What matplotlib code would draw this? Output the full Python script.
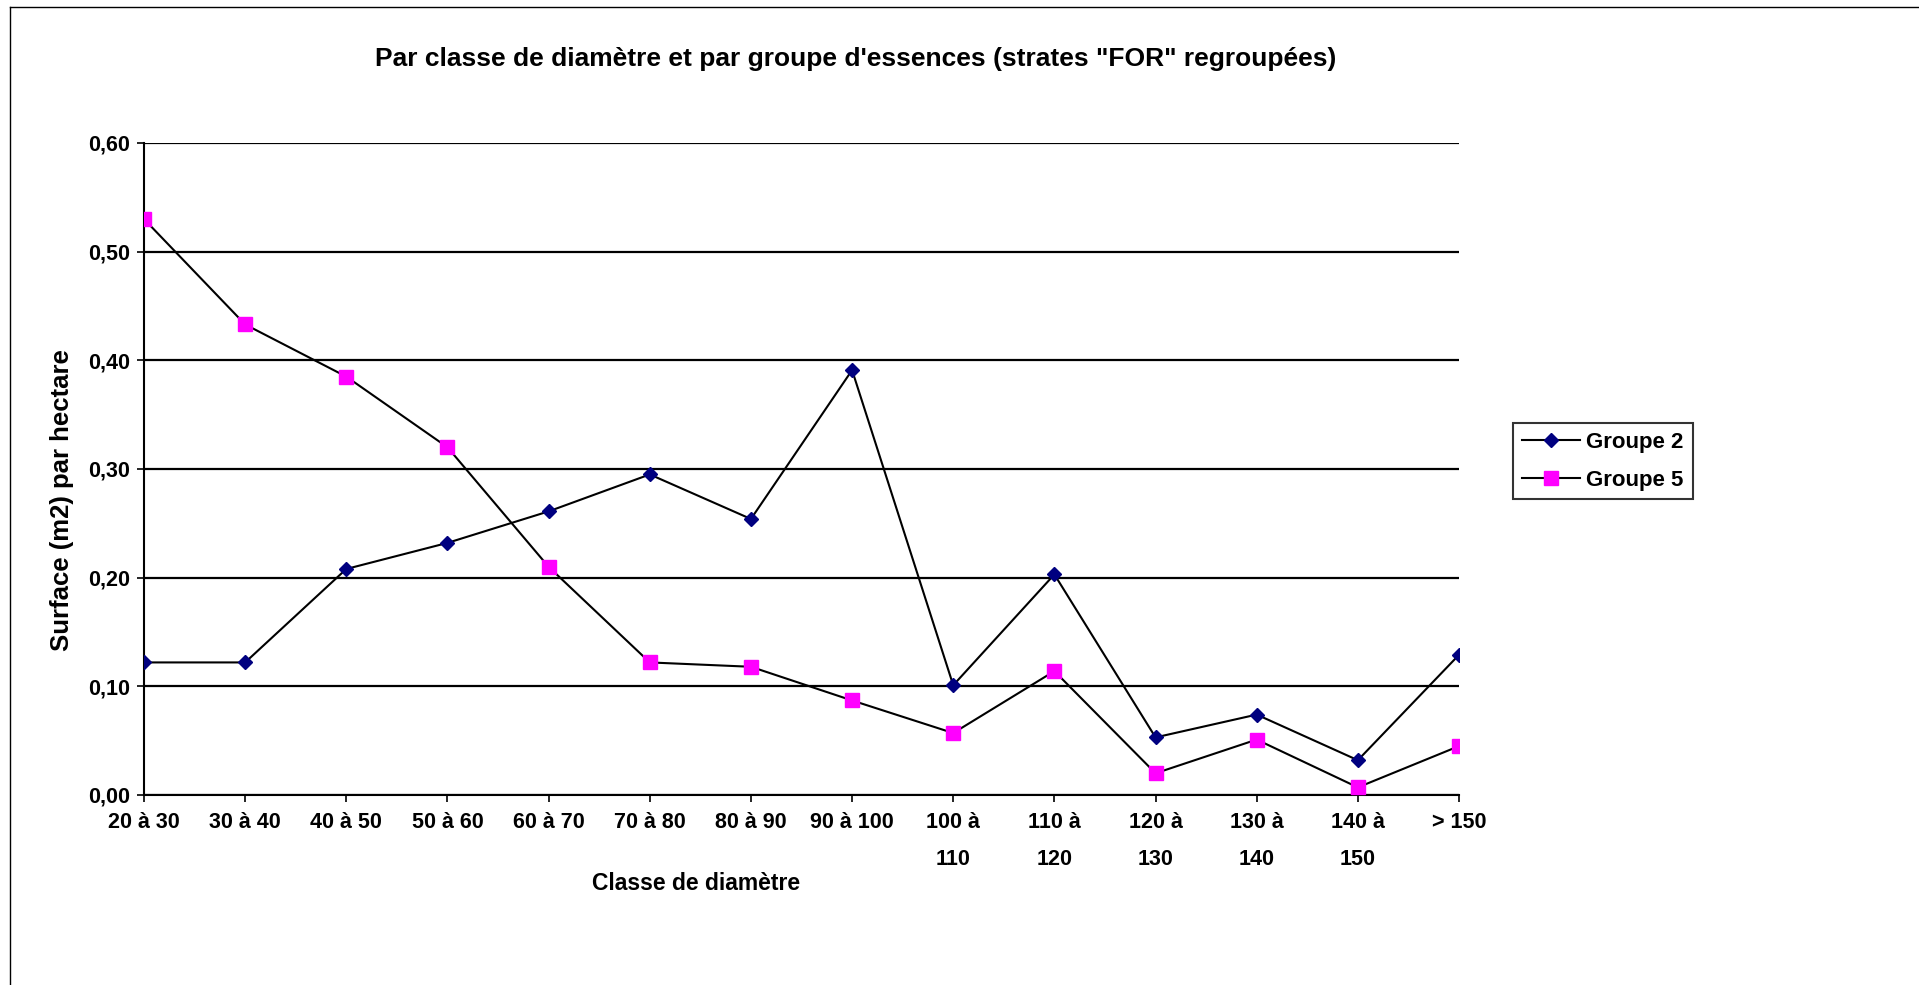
import matplotlib.pyplot as plt
from matplotlib.lines import Line2D

# données
classes = ['20 à 30', '30 à 40', '40 à 50', '50 à 60', '60 à 70', '70 à 80', '80 à 90',
           '90 à 100', '100 à\n110', '110 à\n120', '120 à\n130', '130 à\n140', '140 à\n150', '> 150']
groupe2 = [0.122, 0.122, 0.208, 0.232, 0.261, 0.295, 0.254, 0.391, 0.101, 0.203, 0.053, 0.074, 0.032, 0.129]
groupe5 = [0.530, 0.433, 0.385, 0.320, 0.210, 0.122, 0.118, 0.087, 0.057, 0.114, 0.020, 0.051, 0.007, 0.045]
yticks = [0.0, 0.1, 0.2, 0.3, 0.4, 0.5, 0.6]

plt.rcParams['font.family'] = ['Liberation Sans', 'DejaVu Sans']
plt.rcParams['font.weight'] = 'bold'

W, H = 1919, 985
fig = plt.figure(figsize=(W / 100, H / 100), dpi=100)
ax = fig.add_axes([144 / W, 1 - 795 / H, (1459 - 144) / W, (795 - 143) / H])

x = list(range(len(classes)))
ax.plot(x, groupe2, color='black', lw=1.5, marker='D', markersize=7.5,
        markerfacecolor='#000080', markeredgecolor='#000080', label='Groupe 2', zorder=3)
ax.plot(x, groupe5, color='black', lw=1.5, marker='s', markersize=10,
        markerfacecolor='#FF00FF', markeredgecolor='#FF00FF', label='Groupe 5', zorder=3)

ax.set_xlim(0, len(classes) - 1)
ax.set_ylim(0, 0.6)
ax.set_yticks(yticks)
ax.set_yticklabels([('%.2f' % v).replace('.', ',') for v in yticks], fontsize=15.5, fontweight='bold')
ax.set_xticks(x)
ax.set_xticklabels(classes, fontsize=15.5, fontweight='bold', linespacing=2.0, va='top')
ax.tick_params(axis='both', direction='out', length=5, width=1.2, color='black')
ax.tick_params(axis='x', pad=7)
ax.tick_params(axis='y', pad=5)

ax.grid(axis='y', color='black', lw=1.6)
ax.set_axisbelow(True)
for side in ['top', 'right']:
    ax.spines[side].set_visible(False)
for side in ['left', 'bottom']:
    ax.spines[side].set_linewidth(1.5)
    ax.spines[side].set_color('black')
    ax.spines[side].set_zorder(2.5)

# titres
fig.text(856 / W, 1 - 59 / H, 'Par classe de diamètre et par groupe d\'essences (strates "FOR" regroupées)',
         ha='center', va='center', fontsize=19, fontweight='bold')
fig.text(696 / W, 1 - 883 / H, 'Classe de diamètre', ha='center', va='center', fontsize=16.5, fontweight='bold')
fig.text(62 / W, 1 - 500 / H, 'Surface (m2) par hectare', ha='center', va='center', rotation=90,
         fontsize=18.5, fontweight='bold')

# légende
leg = fig.legend(handles=ax.get_lines(), loc='upper left', bbox_to_anchor=(1513 / W, 1 - 423 / H),
                 frameon=True, fancybox=False, edgecolor='black', fontsize=16,
                 handlelength=2.6, borderpad=0.4, labelspacing=0.75, handletextpad=0.3,
                 borderaxespad=0)
leg.get_frame().set_linewidth(1.5)

# cadre du graphique
fig.add_artist(Line2D([10 / W, 10 / W], [0, 1 - 7 / H], color='black', lw=1, transform=fig.transFigure))
fig.add_artist(Line2D([10 / W, 1], [1 - 7 / H, 1 - 7 / H], color='black', lw=1, transform=fig.transFigure))

fig.savefig('out.png', dpi=100)
